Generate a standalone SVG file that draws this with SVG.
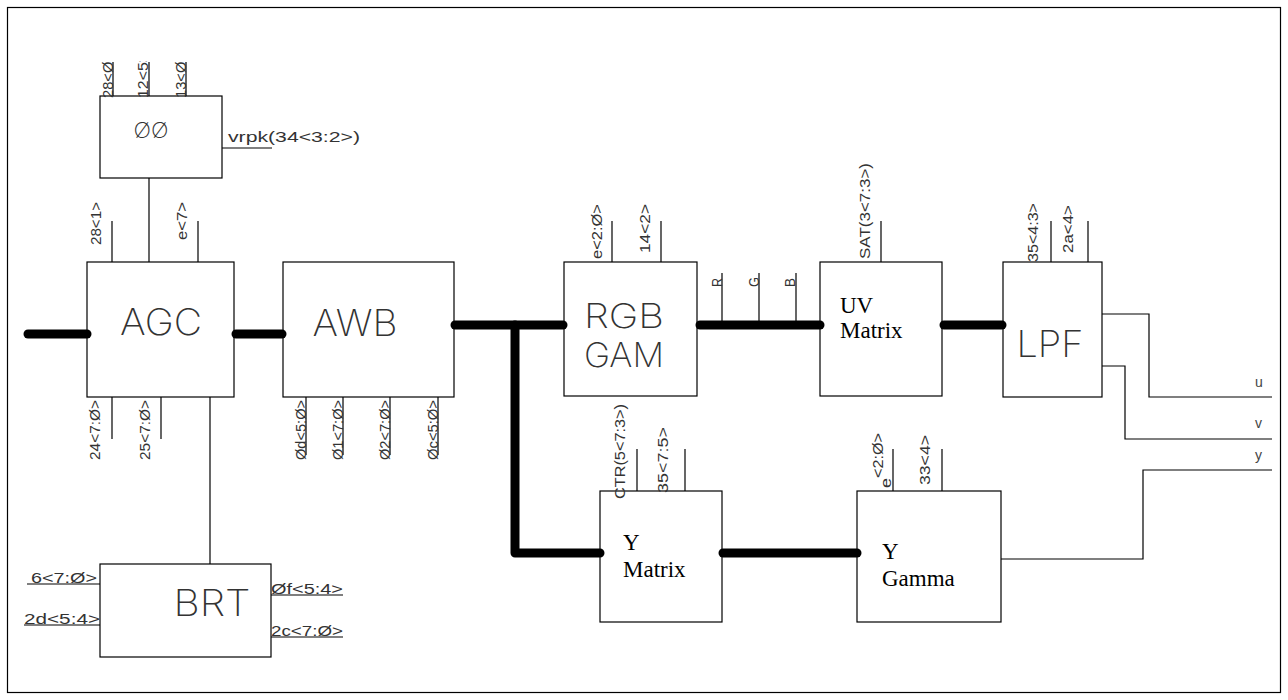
<svg xmlns="http://www.w3.org/2000/svg" width="1288" height="700" viewBox="0 0 1288 700">
<style>
.box{fill:none;stroke:#000;stroke-width:1.2}
.w{fill:none;stroke:#000;stroke-width:1.2}
.bus{fill:none;stroke:#000;stroke-width:9;stroke-linecap:round;stroke-linejoin:round}
.big{font-family:Inter,"Liberation Sans",sans-serif;font-weight:200;fill:#333;text-anchor:middle}
.pl{font-family:"Liberation Sans",sans-serif;font-size:15px;fill:#333}
.sl{font-family:"Liberation Sans",sans-serif;font-size:14px;fill:#444}
.ser{font-family:"Liberation Serif",serif;font-size:23px;fill:#000}
</style>
<defs>
<clipPath id="topclip"><rect x="90" y="61" width="110" height="40"/></clipPath>
</defs>
<rect x="0" y="0" width="1288" height="700" fill="#fff"/>
<rect x="7.5" y="7.5" width="1273" height="685" fill="none" stroke="#000" stroke-width="1.2"/>

<g id="node-oo">
<rect class="box" x="100" y="96" width="122" height="82"/>
<text class="big" x="151" y="138" font-size="21" textLength="35" lengthAdjust="spacingAndGlyphs">ØØ</text>
<line class="w" x1="113" y1="62" x2="113" y2="96"/>
<line class="w" x1="149" y1="62" x2="149" y2="96"/>
<line class="w" x1="186" y1="62" x2="186" y2="96"/>
<g clip-path="url(#topclip)">
<text class="pl" transform="translate(113,98) rotate(-90)" textLength="45" lengthAdjust="spacingAndGlyphs">28&lt;Ø&gt;</text>
<text class="pl" transform="translate(148,98) rotate(-90)" textLength="45" lengthAdjust="spacingAndGlyphs">12&lt;5&gt;</text>
<text class="pl" transform="translate(186,98) rotate(-90)" textLength="45" lengthAdjust="spacingAndGlyphs">13&lt;Ø&gt;</text>
</g>
<line class="w" x1="222" y1="148" x2="272" y2="148"/>
<text class="pl" x="228" y="142" textLength="132" lengthAdjust="spacingAndGlyphs">vrpk(34&lt;3:2&gt;)</text>
</g>

<g id="node-agc">
<rect class="box" x="87" y="262" width="147" height="135"/>
<text class="big" x="161" y="335" font-size="37" textLength="82" lengthAdjust="spacingAndGlyphs">AGC</text>
<line class="w" x1="112" y1="221" x2="112" y2="262"/>
<line class="w" x1="198" y1="221" x2="198" y2="262"/>
<text class="pl" transform="translate(101,245) rotate(-90)" textLength="43" lengthAdjust="spacingAndGlyphs">28&lt;1&gt;</text>
<text class="pl" transform="translate(187,240) rotate(-90)" textLength="38" lengthAdjust="spacingAndGlyphs">e&lt;7&gt;</text>
<line class="w" x1="112" y1="397" x2="112" y2="439"/>
<line class="w" x1="161" y1="397" x2="161" y2="439"/>
<text class="pl" transform="translate(100,460) rotate(-90)" textLength="60" lengthAdjust="spacingAndGlyphs">24&lt;7:Ø&gt;</text>
<text class="pl" transform="translate(150,460) rotate(-90)" textLength="60" lengthAdjust="spacingAndGlyphs">25&lt;7:Ø&gt;</text>
</g>

<g id="node-awb">
<rect class="box" x="283" y="262" width="171" height="135"/>
<text class="big" x="355" y="336" font-size="36" textLength="85" lengthAdjust="spacingAndGlyphs">AWB</text>
<line class="w" x1="306" y1="397" x2="306" y2="455"/>
<line class="w" x1="343" y1="397" x2="343" y2="455"/>
<line class="w" x1="390" y1="397" x2="390" y2="455"/>
<line class="w" x1="438" y1="397" x2="438" y2="455"/>
<text class="pl" transform="translate(306,460) rotate(-90)" textLength="60" lengthAdjust="spacingAndGlyphs">Ød&lt;5:Ø&gt;</text>
<text class="pl" transform="translate(343,460) rotate(-90)" textLength="60" lengthAdjust="spacingAndGlyphs">Ø1&lt;7:Ø&gt;</text>
<text class="pl" transform="translate(390,460) rotate(-90)" textLength="60" lengthAdjust="spacingAndGlyphs">Ø2&lt;7:Ø&gt;</text>
<text class="pl" transform="translate(438,460) rotate(-90)" textLength="60" lengthAdjust="spacingAndGlyphs">Øc&lt;5:Ø&gt;</text>
</g>

<g id="node-rgbgam">
<rect class="box" x="564" y="262" width="133" height="134"/>
<text class="big" x="624" y="328" font-size="34" textLength="80" lengthAdjust="spacingAndGlyphs">RGB</text>
<text class="big" x="624" y="367" font-size="34" textLength="80" lengthAdjust="spacingAndGlyphs">GAM</text>
<line class="w" x1="612" y1="221" x2="612" y2="262"/>
<line class="w" x1="661" y1="221" x2="661" y2="262"/>
<text class="pl" transform="translate(602,259) rotate(-90)" textLength="55" lengthAdjust="spacingAndGlyphs">e&lt;2:Ø&gt;</text>
<text class="pl" transform="translate(650,253) rotate(-90)" textLength="49" lengthAdjust="spacingAndGlyphs">14&lt;2&gt;</text>
<line class="w" x1="722" y1="273" x2="722" y2="325"/>
<line class="w" x1="759" y1="273" x2="759" y2="325"/>
<line class="w" x1="796" y1="273" x2="796" y2="325"/>
<text class="pl" transform="translate(722,287) rotate(-90)" textLength="9" lengthAdjust="spacingAndGlyphs">R</text>
<text class="pl" transform="translate(759,287) rotate(-90)" textLength="10" lengthAdjust="spacingAndGlyphs">G</text>
<text class="pl" transform="translate(795,287) rotate(-90)" textLength="9" lengthAdjust="spacingAndGlyphs">B</text>
</g>

<g id="node-uvmatrix">
<rect class="box" x="820" y="262" width="122" height="134"/>
<text class="ser" x="840" y="313">UV</text>
<text class="ser" x="840" y="338">Matrix</text>
<line class="w" x1="881" y1="221" x2="881" y2="262"/>
<text class="pl" transform="translate(870,259) rotate(-90)" textLength="96" lengthAdjust="spacingAndGlyphs">SAT(3&lt;7:3&gt;)</text>
</g>

<g id="node-lpf">
<rect class="box" x="1003" y="262" width="99" height="135"/>
<text class="big" x="1050" y="357" font-size="36" textLength="67" lengthAdjust="spacingAndGlyphs">LPF</text>
<line class="w" x1="1051" y1="221" x2="1051" y2="262"/>
<line class="w" x1="1088" y1="221" x2="1088" y2="262"/>
<text class="pl" transform="translate(1038,262) rotate(-90)" textLength="59" lengthAdjust="spacingAndGlyphs">35&lt;4:3&gt;</text>
<text class="pl" transform="translate(1073,253) rotate(-90)" textLength="48" lengthAdjust="spacingAndGlyphs">2a&lt;4&gt;</text>
</g>

<g id="node-ymatrix">
<rect class="box" x="600" y="491" width="122" height="131"/>
<text class="ser" x="623" y="550">Y</text>
<text class="ser" x="623" y="577">Matrix</text>
<line class="w" x1="637" y1="449" x2="637" y2="491"/>
<line class="w" x1="685" y1="449" x2="685" y2="491"/>
<text class="pl" transform="translate(625,499) rotate(-90)" textLength="95" lengthAdjust="spacingAndGlyphs">CTR(5&lt;7:3&gt;)</text>
<text class="pl" transform="translate(668,493) rotate(-90)" textLength="66" lengthAdjust="spacingAndGlyphs">35&lt;7:5&gt;</text>
</g>

<g id="node-ygamma">
<rect class="box" x="857" y="491" width="144" height="131"/>
<text class="ser" x="882" y="559">Y</text>
<text class="ser" x="882" y="586">Gamma</text>
<line class="w" x1="893" y1="449" x2="893" y2="491"/>
<line class="w" x1="942" y1="449" x2="942" y2="491"/>
<text class="pl" transform="translate(883,478) rotate(-90)" textLength="45" lengthAdjust="spacingAndGlyphs">&lt;2:Ø&gt;</text>
<text class="pl" transform="translate(891,488) rotate(-90)" textLength="10" lengthAdjust="spacingAndGlyphs">e</text>
<text class="pl" transform="translate(930,485) rotate(-90)" textLength="50" lengthAdjust="spacingAndGlyphs">33&lt;4&gt;</text>
</g>

<g id="node-brt">
<rect class="box" x="100" y="564" width="171" height="93"/>
<text class="big" x="212" y="616" font-size="36" textLength="77" lengthAdjust="spacingAndGlyphs">BRT</text>
<line class="w" x1="27" y1="584" x2="100" y2="584"/>
<line class="w" x1="24" y1="625" x2="100" y2="625"/>
<line class="w" x1="271" y1="595" x2="343" y2="595"/>
<line class="w" x1="271" y1="637" x2="343" y2="637"/>
<text class="pl" x="31" y="583" textLength="66" lengthAdjust="spacingAndGlyphs">6&lt;7:Ø&gt;</text>
<text class="pl" x="24" y="624" textLength="76" lengthAdjust="spacingAndGlyphs">2d&lt;5:4&gt;</text>
<text class="pl" x="271" y="594" textLength="72" lengthAdjust="spacingAndGlyphs">Øf&lt;5:4&gt;</text>
<text class="pl" x="271" y="636" textLength="72" lengthAdjust="spacingAndGlyphs">2c&lt;7:Ø&gt;</text>
</g>

<g id="connectors">
<line class="bus" x1="28" y1="334" x2="87" y2="334"/>
<line class="bus" x1="236" y1="334" x2="282" y2="334"/>
<line class="bus" x1="455" y1="325" x2="563" y2="325"/>
<path class="bus" d="M515,325 V553 H600"/>
<line class="bus" x1="700" y1="325" x2="820" y2="325"/>
<line class="bus" x1="944" y1="325" x2="1002" y2="325"/>
<line class="bus" x1="723" y1="553" x2="857" y2="553"/>
<line class="w" x1="149" y1="178" x2="149" y2="262"/>
<line class="w" x1="210" y1="397" x2="210" y2="564"/>
<path class="w" d="M1102,314 H1149 V397 H1272"/>
<path class="w" d="M1102,366 H1125 V439 H1272"/>
<path class="w" d="M1001,559 H1143 V470 H1272"/>
<text class="sl" x="1255" y="387">u</text>
<text class="sl" x="1255" y="428">v</text>
<text class="sl" x="1255" y="460">y</text>
</g>
</svg>
